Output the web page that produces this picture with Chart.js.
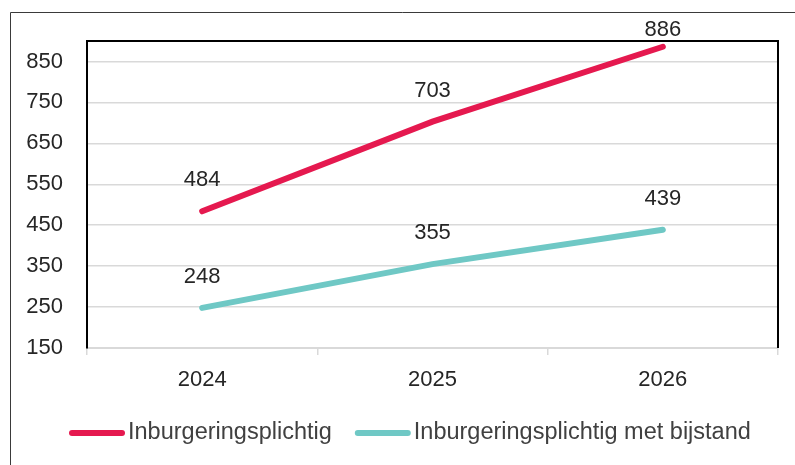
<!DOCTYPE html>
<html>
<head>
<meta charset="utf-8">
<script src="https://cdn.jsdelivr.net/npm/chart.js@4.4.1/dist/chart.umd.min.js"></script>
<style>
  html, body { margin: 0; padding: 0; background: #ffffff; }
  #wrap { position: relative; width: 795px; height: 465px; }
</style>
</head>
<body>
<div id="wrap"><canvas id="c" width="795" height="465"></canvas></div>
<script>
// ---- data ----
const categories = ['2024', '2025', '2026'];
const seriesNames = ['Inburgeringsplichtig', 'Inburgeringsplichtig met bijstand'];
const inburgeringsplichtig = [484, 703, 886];
const metBijstand = [248, 355, 439];
const yTickValues = [150, 250, 350, 450, 550, 650, 750, 850];
const yMin = 150;
const yMax = 900;

const colors = ['#E5194F', '#6FC8C5'];
const FONT = "'Liberation Sans', Arial, sans-serif";
const TEXT = '#262626';

const framePlugin = {
  id: 'frame',
  beforeDraw(chart) {
    const ctx = chart.ctx;
    ctx.save();
    ctx.fillStyle = '#ffffff';
    ctx.fillRect(0, 0, chart.width, chart.height);
    ctx.strokeStyle = '#3a3a3a';
    ctx.lineWidth = 1;
    ctx.beginPath();
    ctx.moveTo(10.5, chart.height);
    ctx.lineTo(10.5, 12.5);
    ctx.lineTo(chart.width, 12.5);
    ctx.stroke();
    ctx.restore();
  },
  afterDatasetsDraw(chart) {
    const a = chart.chartArea;
    const ctx = chart.ctx;
    ctx.save();
    ctx.strokeStyle = '#000000';
    ctx.lineWidth = 2;
    ctx.beginPath();
    ctx.moveTo(a.left, a.top);
    ctx.lineTo(a.right, a.top);
    ctx.lineTo(a.right, a.bottom);
    ctx.stroke();
    ctx.restore();
  }
};

const labelPlugin = {
  id: 'valueLabels',
  afterDatasetsDraw(chart) {
    const ctx = chart.ctx;
    ctx.save();
    ctx.font = '22px ' + FONT;
    ctx.fillStyle = TEXT;
    ctx.textAlign = 'center';
    ctx.textBaseline = 'middle';
    chart.data.datasets.forEach((ds, i) => {
      const meta = chart.getDatasetMeta(i);
      meta.data.forEach((pt, j) => {
        const y = Math.max(pt.y - 31, 30);
        ctx.fillText(String(ds.data[j]), pt.x, y);
      });
    });
    ctx.restore();
  }
};

const legendPlugin = {
  id: 'customLegend',
  afterDraw(chart) {
    const ctx = chart.ctx;
    ctx.save();
    ctx.font = '23.5px ' + FONT;
    ctx.textBaseline = 'middle';
    ctx.textAlign = 'left';
    let x = 69;
    const y = 433;
    chart.data.datasets.forEach((ds) => {
      ctx.strokeStyle = ds.borderColor;
      ctx.lineWidth = 6;
      ctx.lineCap = 'round';
      ctx.beginPath();
      ctx.moveTo(x + 3, y);
      ctx.lineTo(x + 53, y);
      ctx.stroke();
      x += 59;
      ctx.fillStyle = '#404040';
      ctx.fillText(ds.label, x, y);
      x += ctx.measureText(ds.label).width + 23;
    });
    ctx.restore();
  }
};

new Chart(document.getElementById('c'), {
  type: 'line',
  data: {
    labels: categories,
    datasets: [
      { label: seriesNames[0], data: inburgeringsplichtig, borderColor: colors[0], backgroundColor: colors[0],
        borderWidth: 6, pointRadius: 0, borderCapStyle: 'round', tension: 0 },
      { label: seriesNames[1], data: metBijstand, borderColor: colors[1], backgroundColor: colors[1],
        borderWidth: 6, pointRadius: 0, borderCapStyle: 'round', tension: 0 }
    ]
  },
  options: {
    responsive: false,
    animation: false,
    devicePixelRatio: 1,
    layout: { padding: { left: 0, right: 17, top: 41, bottom: 0 } },
    plugins: { legend: { display: false }, tooltip: { enabled: false } },
    scales: {
      x: {
        offset: true,
        grid: { offset: true, drawOnChartArea: false, drawTicks: true, tickLength: 7, color: '#d9d9d9', lineWidth: 1.5 },
        border: { display: true, color: '#d9d9d9', width: 2 },
        ticks: { font: { family: FONT, size: 22 }, color: TEXT, padding: 12, maxRotation: 0 },
        afterFit(s) { s.height = 117; }
      },
      y: {
        min: yMin,
        max: yMax,
        afterBuildTicks(s) { s.ticks = yTickValues.map(v => ({ value: v })); },
        grid: { color: '#d9d9d9', lineWidth: 1.5, drawTicks: false },
        border: { display: true, color: '#000000', width: 2 },
        ticks: { font: { family: FONT, size: 22 }, color: TEXT, padding: 24 },
        afterFit(s) { s.width = 87; }
      }
    }
  },
  plugins: [framePlugin, labelPlugin, legendPlugin]
});
</script>
</body>
</html>
